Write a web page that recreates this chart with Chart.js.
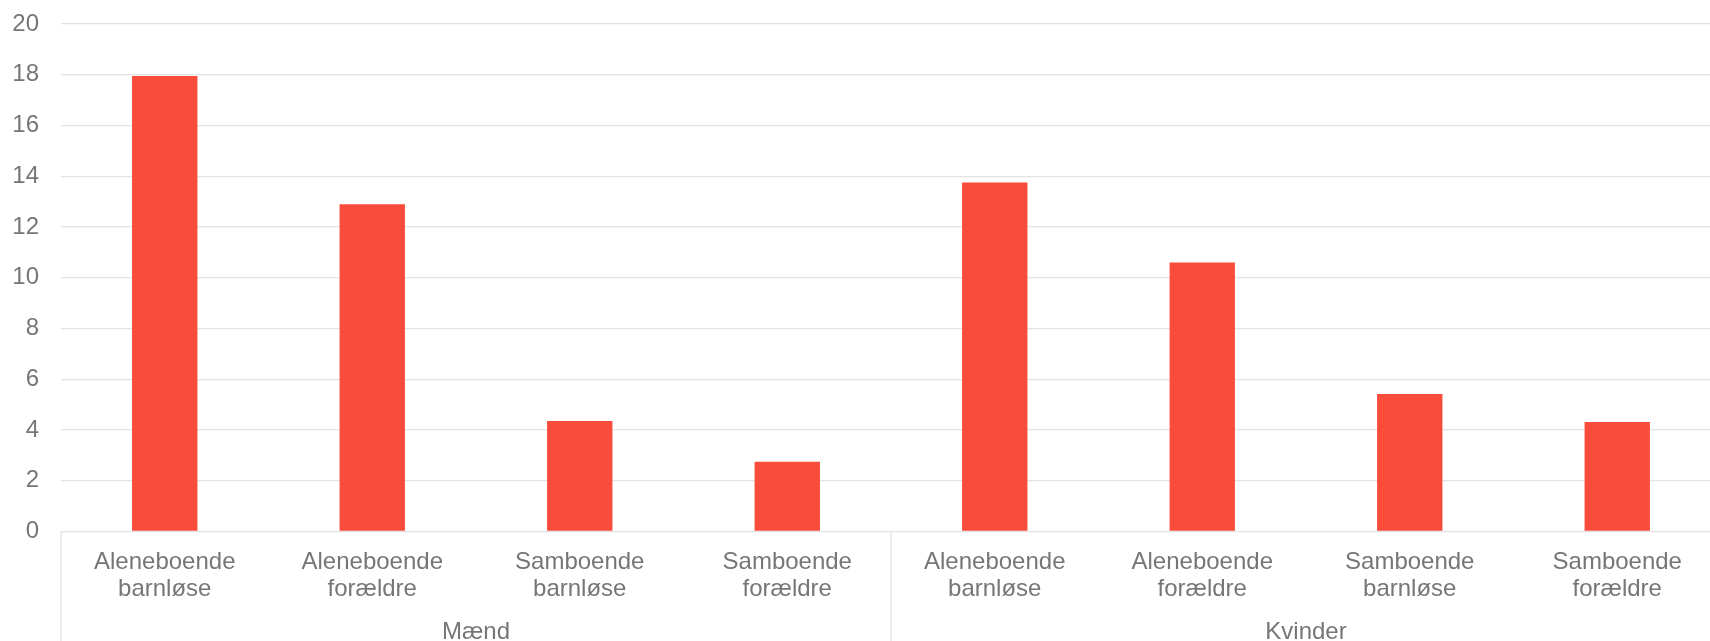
<!DOCTYPE html>
<html>
<head>
<meta charset="utf-8">
<script src="https://cdn.jsdelivr.net/npm/chart.js@4"></script>
<style>
    html, body { margin: 0; padding: 0; background: #ffffff; overflow: hidden; }
    #wrap { position: relative; width: 1721px; height: 641px; }
</style>
</head>
<body>
<div id="wrap"><canvas id="chart"></canvas></div>
<script>
// ─── Data ───────────────────────────────────────────────────────────────────
const CATEGORIES = [
    ["Aleneboende", "barnløse"],
    ["Aleneboende", "forældre"],
    ["Samboende", "barnløse"],
    ["Samboende", "forældre"],
    ["Aleneboende", "barnløse"],
    ["Aleneboende", "forældre"],
    ["Samboende", "barnløse"],
    ["Samboende", "forældre"],
];
const GROUPS = ["Mænd", "Kvinder"];
const GROUP_SIZE = 4;
const VALUES = [17.95, 12.9, 4.35, 2.75, 13.75, 10.6, 5.42, 4.32];

// ─── Styles ─────────────────────────────────────────────────────────────────
const BAR_COLOR  = "#f94c3b";
const TEXT_COLOR = "#767676";
const GRID_COLOR = "#e2e2e2";
const FONT       = "'Liberation Sans', Arial, sans-serif";
const FONT_SIZE  = 24;

// vertical separators between the two groups, below the axis
const groupLines = {
    id: "groupLines",
    afterDraw(chart) {
        const x = chart.scales.x;
        const ctx = chart.ctx;
        const half = (x.getPixelForValue(1) - x.getPixelForValue(0)) / 2;
        ctx.save();
        ctx.strokeStyle = GRID_COLOR;
        ctx.lineWidth = 1.3;
        for (let i = 0; i <= CATEGORIES.length; i += GROUP_SIZE) {
            const px = x.getPixelForValue(i) - half;
            ctx.beginPath();
            ctx.moveTo(px, chart.chartArea.bottom);
            ctx.lineTo(px, chart.height);
            ctx.stroke();
        }
        ctx.restore();
    },
};

new Chart(document.getElementById("chart"), {
    type: "bar",
    data: {
        labels: CATEGORIES,
        datasets: [{
            data: VALUES,
            backgroundColor: BAR_COLOR,
            borderWidth: 0,
            categoryPercentage: 1,
            barPercentage: 0.315,
        }],
    },
    options: {
        responsive: true,
        maintainAspectRatio: false,
        animation: false,
        layout: { padding: { top: 24, left: 13, right: 0, bottom: 0 } },
        plugins: {
            legend: { display: false },
            tooltip: { enabled: false },
        },
        scales: {
            x: {
                grid: { display: false },
                border: { display: false },
                afterFit: (s) => { s.height = 66; s.paddingTop = 0; s.paddingBottom = 0; },
                ticks: {
                    color: TEXT_COLOR,
                    font: { size: FONT_SIZE, family: FONT, lineHeight: 1.1 },
                    padding: 10,
                    maxRotation: 0,
                    autoSkip: false,
                },
            },
            x2: {
                type: "category",
                position: "bottom",
                labels: GROUPS,
                offset: true,
                grid: { display: false },
                border: { display: false },
                afterFit: (s) => { s.height = 43.5; s.paddingTop = 0; s.paddingBottom = 0; },
                ticks: {
                    color: TEXT_COLOR,
                    font: { size: FONT_SIZE, family: FONT },
                    padding: 12,
                },
            },
            y: {
                min: 0,
                max: 20,
                afterFit: (s) => { s.width = 48; s.paddingTop = 0; s.paddingBottom = 0; },
                ticks: {
                    stepSize: 2,
                    color: TEXT_COLOR,
                    font: { size: FONT_SIZE, family: FONT },
                    padding: 22,
                },
                grid: { color: GRID_COLOR, lineWidth: 1.3, drawTicks: false },
                border: { display: false },
            },
        },
    },
    plugins: [groupLines],
});
</script>
</body>
</html>
